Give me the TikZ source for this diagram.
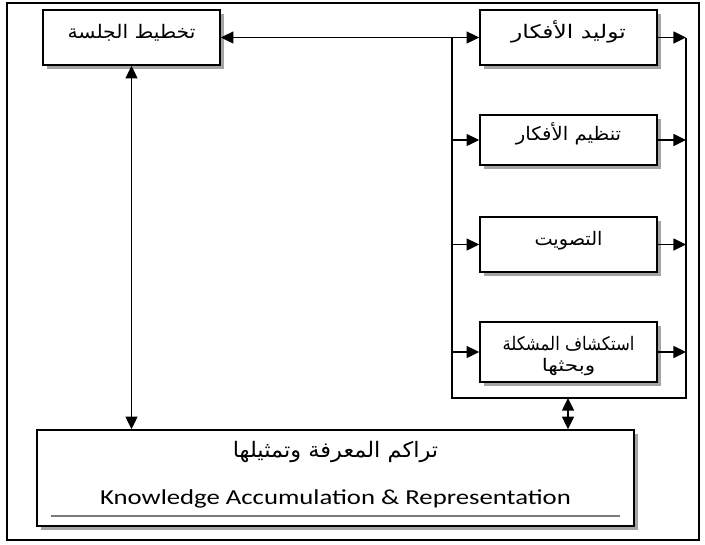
\documentclass[tikz,border=0pt]{standalone}
\usepackage{fontspec}
\usepackage{graphicx}
\setmainfont{Carlito}
\newfontfamily\arabicfont[Script=Arabic]{DejaVu Sans}
\TeXXeTstate=1
\usetikzlibrary{arrows.meta,shadows,calc}
\definecolor{SBShadow}{HTML}{8E8E8E}
\definecolor{SBRule}{HTML}{7A7A7A}
\newcommand{\artxt}[3][14]{\resizebox{#2}{\height}{\arabicfont\fontsize{#1}{16}\selectfont #3}}
\tikzset{
  stagebox/.style={draw,line width=1.2pt,fill=white,minimum width=132.75pt,
    text height=11pt,text depth=10pt,inner sep=0pt,
    drop shadow={shadow xshift=3pt,shadow yshift=-3pt,fill=SBShadow,opacity=.8}},
  conn/.style={line width=1.1pt,>={Triangle[length=9.5pt,width=9pt]}}
}

\begin{document}
\begin{tikzpicture}[x=0.75pt,y=-0.75pt]
\path[use as bounding box] (0,0) rectangle (705,544);
\fill[white] (0,0) rectangle (705,544);
\draw[line width=2pt] (7,3) rectangle (699,540);
\node[stagebox,minimum height=41.25pt] (plan) at (131.5,37.5) {\artxt{96pt}{\beginR تخطيط الجلسة\endR}};
\node[stagebox,minimum height=41.25pt] (gen) at (568.5,37.5) {\artxt{86pt}{\beginR توليد الأفكار\endR}};
\node[stagebox,minimum height=37.5pt] (org) at (568.5,140) {\artxt{79pt}{\beginR تنظيم الأفكار\endR}};
\node[stagebox,minimum height=41.25pt] (vote) at (568.5,244.5) {\artxt{51pt}{\beginR التصويت\endR}};
\node[stagebox,minimum height=45pt] (prob) at (568.5,352) {};
\node[anchor=base] (probtop) at ($(prob.center)+(0,-2)$) {\artxt{99pt}{\beginR استكشاف المشكلة\endR}};
\node[anchor=base] (probbot) at ($(prob.center)+(0,19)$) {\artxt[13]{40pt}{\beginR وبحثها\endR}};
\node[stagebox,minimum width=447.75pt,minimum height=72pt] (know) at (335.5,478) {};
\node[anchor=base] (knowar) at ($(know.north)+(0,28)$) {\artxt[16]{154pt}{\beginR تراكم المعرفة وتمثيلها\endR}};
\node[anchor=base] (knowen) at ($(know.north)+(0,75)$)
  {\resizebox{353pt}{\height}{\fontsize{16}{18}\selectfont Knowledge Accumulation \& Representation}};
\draw[SBRule,line width=1.2pt] ($(know.south west)+(15,-11)$) -- ($(know.south east)+(-15,-11)$);
\coordinate (lbus) at (452,37.5);
\coordinate (rbus) at (686,37.5);
\coordinate (busb) at (568,398);
\draw[conn,<->] (plan.east) -- (gen.west);
\draw[conn] (lbus) -- (lbus |- busb) -- (rbus |- busb) -- (rbus);
\foreach \b in {org,vote,prob}
  \draw[conn,->] (\b.west -| lbus) -- (\b.west);
\foreach \b in {gen,org,vote,prob}
  \draw[conn,->] (\b.east) -- (\b.east -| rbus);
\draw[conn,<->] (plan.south) -- (plan.south |- know.north);
\draw[conn,<->] (busb) -- (busb |- know.north);
\end{tikzpicture}
\end{document}
